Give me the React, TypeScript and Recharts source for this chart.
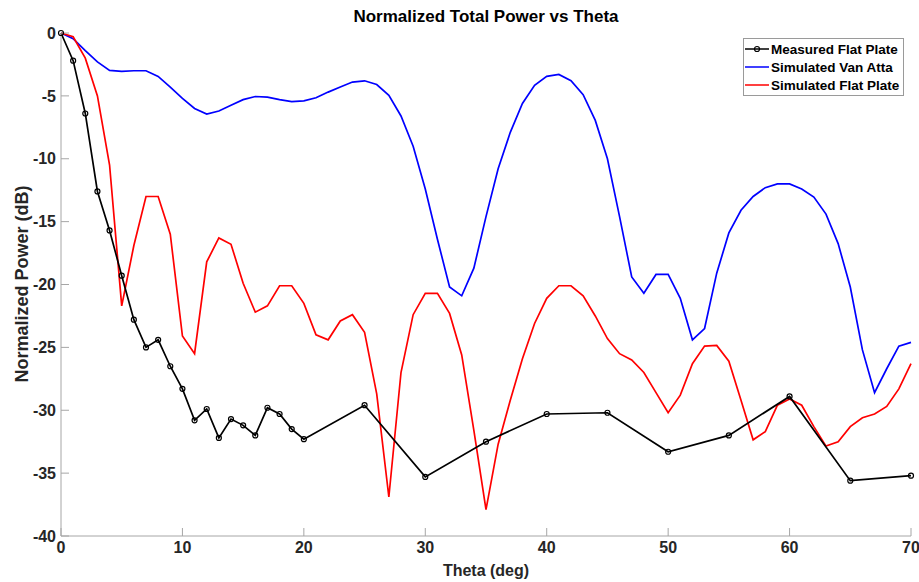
import React from "react";
import { LineChart, Line, XAxis, YAxis } from "recharts";

const FONT = '"Liberation Sans", Arial, sans-serif';

// simulated curves are sampled every degree
const theta = [
  0, 1, 2, 3, 4, 5, 6, 7, 8, 9, 10, 11, 12, 13, 14, 15, 16, 17, 18, 19, 20,
  21, 22, 23, 24, 25, 26, 27, 28, 29, 30, 31, 32, 33, 34, 35, 36, 37, 38, 39, 40,
  41, 42, 43, 44, 45, 46, 47, 48, 49, 50, 51, 52, 53, 54, 55, 56, 57, 58, 59, 60,
  61, 62, 63, 64, 65, 66, 67, 68, 69, 70,
];

const vanAtta = [
  0, -0.45, -1.4, -2.3, -2.97, -3.05, -3.0, -3.0, -3.45, -4.3, -5.2,
  -6.0, -6.45, -6.2, -5.75, -5.3, -5.05, -5.1, -5.3, -5.45, -5.4,
  -5.15, -4.7, -4.3, -3.9, -3.8, -4.1, -4.95, -6.6, -9.0, -12.4,
  -16.4, -20.2, -20.9, -18.7, -14.6, -10.8, -7.9, -5.6, -4.16, -3.45,
  -3.3, -3.8, -4.9, -6.95, -10.0, -14.6, -19.4, -20.7, -19.2, -19.2,
  -21.1, -24.4, -23.5, -19.1, -15.9, -14.1, -13.0, -12.3, -12.0, -12.0,
  -12.4, -13.05, -14.4, -16.75, -20.2, -25.2, -28.6, -26.7, -24.9, -24.6,
];

const simFlat = [
  0, -0.3, -2.0, -5.0, -10.5, -21.7, -16.9, -13.0, -13.0, -16.0, -24.1,
  -25.5, -18.2, -16.3, -16.8, -19.9, -22.2, -21.7, -20.1, -20.1, -21.5,
  -24.0, -24.4, -22.9, -22.4, -23.8, -28.7, -36.9, -27.0, -22.4, -20.7,
  -20.7, -22.3, -25.6, -31.6, -37.9, -32.7, -29.2, -25.9, -23.1, -21.1,
  -20.1, -20.1, -20.9, -22.5, -24.3, -25.5, -26.0, -27.0, -28.6, -30.2,
  -28.8, -26.3, -24.9, -24.85, -26.1, -29.2, -32.35, -31.7, -29.6, -29.1,
  -29.6, -31.3, -32.85, -32.5, -31.3, -30.6, -30.3, -29.7, -28.3, -26.3,
];

// measurements
const measTheta = [
  0, 1, 2, 3, 4, 5, 6, 7, 8, 9, 10, 11, 12, 13, 14, 15, 16, 17, 18, 19, 20,
  25, 30, 35, 40, 45, 50, 55, 60, 65, 70,
];
const measured = [
  0, -2.2, -6.4, -12.6, -15.7, -19.3, -22.8, -25.0, -24.4, -26.5, -28.3,
  -30.8, -29.9, -32.2, -30.7, -31.2, -32.0, -29.8, -30.3, -31.5, -32.3,
  -29.6, -35.3, -32.5, -30.3, -30.2, -33.3, -32.0, -28.9, -35.6, -35.2,
];

const xTicks = [0, 10, 20, 30, 40, 50, 60, 70];
const yTicks = [-40, -35, -30, -25, -20, -15, -10, -5, 0];

const data = theta.map((t, i) => {
  const k = measTheta.indexOf(t);
  return {
    theta: t,
    vanAtta: vanAtta[i],
    simFlat: simFlat[i],
    measured: k >= 0 ? measured[k] : null,
  };
});

const tickStyle = { fontSize: 16, fontWeight: 700, fill: "#262626", fontFamily: FONT };

function LegendBox() {
  const row = (color: string, label: string, marker: boolean) => (
    <div style={{ display: "flex", alignItems: "center", height: 18, whiteSpace: "nowrap" }}>
      <svg width={26} height={10} style={{ marginRight: 1, flexShrink: 0 }}>
        <line x1={1} y1={5} x2={25} y2={5} stroke={color} strokeWidth={1.5} />
        {marker && <circle cx={13} cy={5} r={2.5} fill="none" stroke={color} strokeWidth={1.2} />}
      </svg>
      <span>{label}</span>
    </div>
  );
  return (
    <div
      style={{
        position: "absolute",
        left: 743,
        top: 38,
        width: 161,
        padding: "1px 0",
        border: "1px solid #9a9a9a",
        background: "#fff",
        fontFamily: FONT,
        fontWeight: 700,
        fontSize: 13.5,
        color: "#000",
        boxSizing: "border-box",
      }}
    >
      {row("#000000", "Measured Flat Plate", true)}
      {row("#0000ff", "Simulated Van Atta", false)}
      {row("#ff0000", "Simulated Flat Plate", false)}
    </div>
  );
}

export default function App() {
  return (
    <div style={{ position: "absolute", left: 0, top: 0, width: 919, height: 582, background: "#fff" }}>
      <LineChart width={919} height={582} data={data} margin={{ top: 33, right: 8, bottom: 0, left: 0 }}>
        <XAxis
          dataKey="theta"
          type="number"
          domain={[0, 70]}
          ticks={xTicks}
          height={46}
          stroke="#a6a6a6"
          tickSize={-8}
          tickMargin={14}
          tick={tickStyle}
        />
        <YAxis
          type="number"
          domain={[-40, 0]}
          ticks={yTicks}
          width={61}
          stroke="#a6a6a6"
          tickSize={-8}
          tickMargin={13}
          tick={tickStyle}
        />
        <Line
          dataKey="vanAtta"
          stroke="#0000ff"
          strokeWidth={1.7}
          dot={false}
          isAnimationActive={false}
        />
        <Line
          dataKey="simFlat"
          stroke="#ff0000"
          strokeWidth={1.7}
          dot={false}
          isAnimationActive={false}
        />
        <Line
          dataKey="measured"
          stroke="#000000"
          strokeWidth={1.7}
          connectNulls
          dot={{ r: 2.5, fill: "none", stroke: "#000", strokeWidth: 1.2 }}
          isAnimationActive={false}
        />
      </LineChart>
      <div
        style={{
          position: "absolute",
          left: 61,
          width: 850,
          top: 7,
          textAlign: "center",
          fontFamily: FONT,
          fontWeight: 700,
          fontSize: 17,
          color: "#000",
        }}
      >
        Normalized Total Power vs Theta
      </div>
      <div
        style={{
          position: "absolute",
          left: 61,
          width: 850,
          top: 562,
          textAlign: "center",
          fontFamily: FONT,
          fontWeight: 700,
          fontSize: 16,
          color: "#262626",
        }}
      >
        Theta (deg)
      </div>
      <div
        style={{
          position: "absolute",
          left: 22,
          top: 284,
          transform: "translate(-50%, -50%) rotate(-90deg)",
          whiteSpace: "nowrap",
          fontFamily: FONT,
          fontWeight: 700,
          fontSize: 18,
          color: "#262626",
        }}
      >
        Normalized Power (dB)
      </div>
      <LegendBox />
    </div>
  );
}
